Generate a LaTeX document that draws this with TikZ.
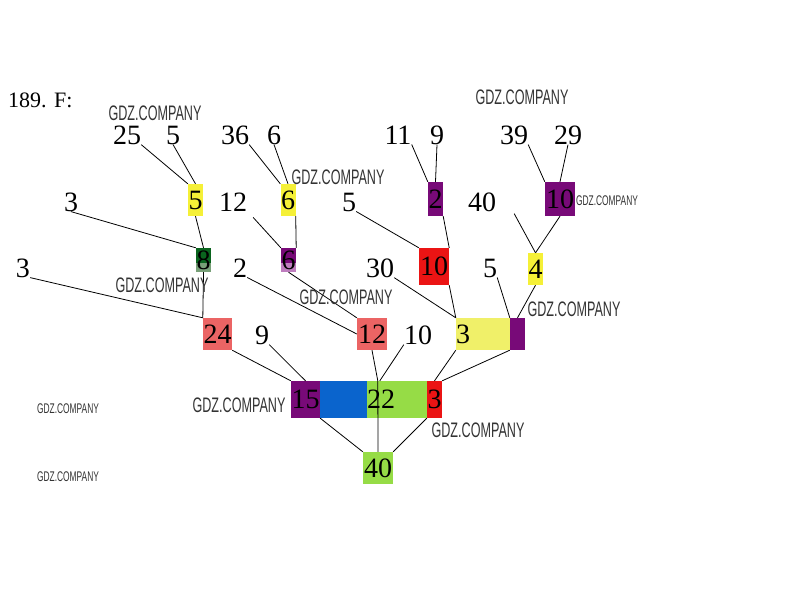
\documentclass[tikz,border=0pt]{standalone}
\usepackage{fontspec}
\setmainfont{Liberation Serif}
\newfontfamily\wmfont[FakeStretch=0.6]{Liberation Sans}
\usetikzlibrary{positioning}

\definecolor{tyellow}{RGB}{245,240,55}
\definecolor{tpaleyellow}{RGB}{240,240,105}
\definecolor{tpurple}{RGB}{120,10,120}
\definecolor{tlilac}{RGB}{190,125,190}
\definecolor{tred}{RGB}{235,20,20}
\definecolor{tsalmon}{RGB}{235,100,100}
\definecolor{tgreen}{RGB}{150,220,70}
\definecolor{tblue}{RGB}{10,100,205}
\definecolor{tdkgreen}{RGB}{10,100,30}
\definecolor{tgreygreen}{RGB}{120,160,120}

\tikzset{
    num/.style     = {inner sep=0pt, font=\fontsize{28}{28}\selectfont},
    box/.style     = {rectangle, inner sep=0pt, font=\fontsize{28}{28}\selectfont},
    link/.style    = {draw=black, line width=0.8pt},
    wmark/.style   = {inner sep=0pt, text=black!80, font=\wmfont\fontsize{21}{21}\selectfont},
    wmsmall/.style = {wmark, font=\wmfont\fontsize{14}{14}\selectfont}
}

\begin{document}
\begin{tikzpicture}[x=1pt, y=-1pt,
        ybox/.style = {box, fill=tyellow, minimum width=15pt, minimum height=32pt},
        pbox/.style = {box, fill=tpurple, minimum width=15pt, minimum height=34pt},
        halfbox/.style 2 args = {box, fill=#1, minimum width=15pt, minimum height=24pt,
            path picture={\fill[#2] (path picture bounding box.south west) rectangle
                ([yshift=9pt]path picture bounding box.south east);}}
    ]
        \useasboundingbox (0,0) rectangle (808,590);

        % Title
        \node[inner sep=0pt, anchor=west, font=\fontsize{22}{22}\selectfont] (title) at (8,100) {189. F:};

        % Top numbers
        \node[num] (l25) at (127,135) {25};
        \node[num] (l5a) at (173,135) {5};
        \node[num] (l36) at (235,135) {36};
        \node[num] (l6)  at (274,135) {6};
        \node[num] (l11) at (398,135) {11};
        \node[num] (l9)  at (437,135) {9};
        \node[num] (l39) at (514,135) {39};
        \node[num] (l29) at (568,135) {29};

        % Second row
        \node[ybox] (y5) at (195.5,200) {5};
        \node[ybox] (y6) at (288,200) {6};
        \node[pbox] (p2) at (435.5,199) {2};
        \node[pbox, minimum width=30pt] (p10) at (560,199) {10};
        \node[num] (l3a) at (71,202) {3};
        \node[num] (l12) at (233,202) {12};
        \node[num] (l5b) at (349,202) {5};
        \node[num] (l40) at (482,202) {40};

        % Third row
        \node[halfbox={tdkgreen}{tgreygreen}] (g8) at (203.5,260) {8};
        \node[halfbox={tpurple}{tlilac}] (pu6) at (288.5,260) {6};
        \node[box, fill=tred, minimum width=30pt, minimum height=37pt] (r10) at (434,266.5) {10};
        \node[ybox] (y4) at (535.5,269) {4};
        \node[num] (l3b) at (23,268) {3};
        \node[num] (l2)  at (240,268) {2};
        \node[num] (l30) at (380,268) {30};
        \node[num] (l5c) at (490,268) {5};

        % Fourth row
        \node[box, fill=tsalmon, minimum width=29pt, minimum height=32pt] (pk24) at (217.5,334) {24};
        \node[box, fill=tsalmon, minimum width=30pt, minimum height=32pt] (pk12) at (372,334) {12};
        \node[box, fill=tpaleyellow, minimum width=54pt, minimum height=32pt] (y3) at (483,334) {};
        \node[num, anchor=west] (t3) at (y3.west) {3};
        \node[box, fill=tpurple, minimum width=15pt, minimum height=32pt] (pu1) at (517.5,334) {};
        \node[num] (l9b) at (262,335) {9};
        \node[num] (l10) at (418,335) {10};

        % Bar
        \node[box, fill=tpurple, minimum width=29pt, minimum height=37pt] (p15) at (305.5,399.5) {15};
        \node[box, fill=tblue, minimum width=47pt, minimum height=37pt] (bl) at (343.5,399.5) {};
        \node[box, fill=tgreen, minimum width=60pt, minimum height=37pt] (g22) at (397,399.5) {};
        \node[num, anchor=west] (t22) at (g22.west) {22};
        \node[box, fill=tred, minimum width=15pt, minimum height=37pt] (r3) at (434.5,399.5) {3};

        % Result
        \node[box, fill=tgreen, minimum width=30pt, minimum height=32pt] (g40) at (378,468) {40};

        % Connectors
        \draw[link] (l25.south east) -- (y5.north west);
        \draw[link] (l5a.south) -- (y5.north);
        \draw[link] (l36.south east) -- (y6.north west);
        \draw[link] (l6.south) -- (y6.north);
        \draw[link] (l11.south east) -- (p2.north west);
        \draw[link] (l9.south) -- (p2.north);
        \draw[link] (l39.south east) -- (p10.north west);
        \draw[link] (l29.south) -- (p10.north);
        \draw[link] (l3a.south) -- (g8.north west);
        \draw[link] (y5.south) -- (g8.north);
        \draw[link] ([xshift=6pt,yshift=-6pt]l12.south east) -- (pu6.north west);
        \draw[link] (y6.south east) -- (pu6.north east);
        \draw[link] (l5b.south east) -- (r10.north west);
        \draw[link] (p2.south east) -- (r10.north east);
        \draw[link] ([xshift=18pt,yshift=-2pt]l40.south east) -- (y4.north);
        \draw[link] (p10.south) -- (y4.north);
        \draw[link] (l3b.south east) -- (pk24.north west);
        \draw[link] (g8.south) -- (pk24.north west);
        \draw[link] (l2.south east) -- (pk12.west);
        \draw[link] (pu6.south) -- (pk12.north west);
        \draw[link] (l30.south east) -- (y3.north west);
        \draw[link] (r10.south east) -- (y3.north west);
        \draw[link] (l5c.south east) -- (pu1.north west);
        \draw[link] (y4.south) -- (pu1.north);
        \draw[link] (pk24.south east) -- (p15.north west);
        \draw[link] (l9b.south east) -- (p15.north);
        \draw[link] (pk12.south) -- ([xshift=11pt]g22.north west);
        \draw[link] (l10.south west) -- ([xshift=13pt]g22.north west);
        \draw[link] (y3.south west) -- (r3.north);
        \draw[link] (pu1.south west) -- (r3.north east);
        \draw[link] (p15.south east) -- (g40.north west);
        \draw[link] ([xshift=11pt]g22.north west) -- (g40.north);
        \draw[link] (r3.south west) -- (g40.north east);

        % Watermarks
        \node[wmark] (wm1) at (155,113) {GDZ.COMPANY};
        \node[wmark] (wm2) at (522,97) {GDZ.COMPANY};
        \node[wmark] (wm3) at (338,177) {GDZ.COMPANY};
        \node[wmark] (wm4) at (162,285) {GDZ.COMPANY};
        \node[wmark] (wm5) at (346,297) {GDZ.COMPANY};
        \node[wmark] (wm6) at (574,309) {GDZ.COMPANY};
        \node[wmark] (wm7) at (239,405) {GDZ.COMPANY};
        \node[wmark] (wm8) at (478,430) {GDZ.COMPANY};
        \node[wmsmall] (wm9) at (607,201) {GDZ.COMPANY};
        \node[wmsmall] (wm10) at (68,409) {GDZ.COMPANY};
        \node[wmsmall] (wm11) at (68,477) {GDZ.COMPANY};

    \end{tikzpicture}
\end{document}
